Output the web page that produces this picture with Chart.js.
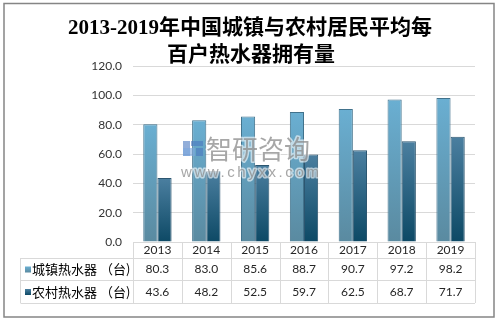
<!DOCTYPE html>
<html><head><meta charset="utf-8">
<script src="https://cdn.jsdelivr.net/npm/chart.js@4.4.1/dist/chart.umd.min.js"></script>
<style>html,body{margin:0;padding:0;background:#fff;overflow:hidden}#wrap{width:499px;height:322px;position:relative}</style>
</head><body><div id="wrap"><canvas id="c" width="499" height="322"></canvas></div>
<script>
const years = ['2013','2014','2015','2016','2017','2018','2019'];
const urban = [80.3, 83.0, 85.6, 88.7, 90.7, 97.2, 98.2];
const rural = [43.6, 48.2, 52.5, 59.7, 62.5, 68.7, 71.7];
const seriesNames = ['城镇热水器 （台)', '农村热水器 （台)'];
const titleLines = ['2013-2019年中国城镇与农村居民平均每', '百户热水器拥有量'];
const yMin = 0, yMax = 120, yStep = 20;

const colors = [
  {top:'#6aafd2', bottom:'#5a8aa0', border:'#41728c'},
  {top:'#4b7fa0', bottom:'#0d4965', border:'#2c5670'}
];
function barGrad(ctx, i){
  const chart = ctx.chart, ca = chart.chartArea;
  if(!ca || ctx.raw == null) return colors[i].top;
  const ys = chart.scales.y;
  const yt = ys.getPixelForValue(ctx.raw), yb = ys.getPixelForValue(0);
  const g = chart.ctx.createLinearGradient(0, yt, 0, yb);
  g.addColorStop(0, colors[i].top); g.addColorStop(1, colors[i].bottom);
  return g;
}
const numFont = '"Lato", "Liberation Sans", sans-serif';
const cjkFont = '"Noto Sans CJK SC", sans-serif';

const decor = {
  id:'decor',
  beforeDraw(chart){
    const c = chart.ctx; c.save(); c.fillStyle='#fff'; c.fillRect(0,0,chart.width,chart.height); c.restore();
  },
  afterDatasetsDraw(chart){
    const c = chart.ctx; c.save();
    // watermark
    c.globalAlpha = 0.6;
    c.fillStyle = '#4a78c0';
    c.fillRect(183,141,7,15); c.fillRect(191,141,12,5); c.fillRect(196,148,7,8);
    c.fillStyle = '#7aa6dd'; c.fillRect(183,148,12,8);
    c.globalAlpha = 0.75;
    c.font = '26px ' + cjkFont; c.textBaseline='middle'; c.textAlign='left';
    c.strokeStyle = 'rgba(255,255,255,0.8)'; c.lineWidth = 3; c.lineJoin='round';
    c.strokeText('智研咨询', 206, 149);
    c.fillStyle = '#8a8a8a';
    c.fillText('智研咨询', 206, 149);
    c.font = '15px "Liberation Sans", sans-serif';
    try { c.letterSpacing = '2.6px'; } catch(e){}
    c.strokeText('www.chyxx.com', 181, 173);
    c.fillText('www.chyxx.com', 181, 173);
    c.restore();
  },
  afterDraw(chart){
    const c = chart.ctx, ca = chart.chartArea, xs = chart.scales.x;
    c.save();
    // title
    c.fillStyle = '#000'; c.textAlign='center'; c.textBaseline='middle';
    c.font = 'bold 21px "Liberation Serif", ' + cjkFont;
    c.fillText(titleLines[0], 250, 29);
    c.fillText(titleLines[1], 251, 56);
    // table
    const left = 20.5, x0 = ca.left, x1 = ca.right;
    const rows = [ca.bottom, 258, 280, 303];
    c.strokeStyle = '#d9d9d9'; c.lineWidth = 1;
    c.beginPath();
    c.moveTo(x0, Math.round(rows[0])+0.5); c.lineTo(x1, Math.round(rows[0])+0.5);
    for(let r=1;r<rows.length;r++){ c.moveTo(left, rows[r]+0.5); c.lineTo(x1, rows[r]+0.5); }
    const cw = (x1-x0)/years.length;
    for(let i=0;i<=years.length;i++){ const x = Math.round(x0+i*cw)+0.5; c.moveTo(x, rows[0]); c.lineTo(x, rows[3]); }
    c.moveTo(left, rows[1]); c.lineTo(left, rows[3]);
    c.stroke();
    c.fillStyle = '#262626'; c.textAlign='center'; c.textBaseline='middle';
    c.font = '12px ' + numFont;
    years.forEach((y,i)=>{ const cx = xs.getPixelForValue(i); c.fillText(y, cx, 250.5); });
    [urban, rural].forEach((arr,r)=>{
      const cy = (rows[r+1]+rows[r+2])/2 + 0.5;
      arr.forEach((v,i)=>{ c.fillText(v.toFixed(1), xs.getPixelForValue(i), cy); });
      // legend key
      const g = c.createLinearGradient(0, cy-3, 0, cy+3);
      g.addColorStop(0, colors[r].top); g.addColorStop(1, colors[r].bottom);
      c.fillStyle = g; c.fillRect(25, cy-3, 6, 6);
      c.fillStyle = '#000'; c.textAlign='left';
      c.font = '13px ' + cjkFont;
      c.fillText(seriesNames[r], 32, cy);
      c.fillStyle = '#262626'; c.textAlign='center'; c.font = '12px ' + numFont;
    });
    // outer border
    c.strokeStyle = '#858585'; c.lineWidth = 1.5;
    c.strokeRect(4, 3.5, 490, 313.5);
    c.restore();
  }
};

new Chart(document.getElementById('c'), {
  type:'bar',
  data:{
    labels: years,
    datasets:[
      {label:seriesNames[0], data:urban, backgroundColor:(ctx)=>barGrad(ctx,0), borderColor:colors[0].border, borderWidth:1, borderSkipped:'bottom'},
      {label:seriesNames[1], data:rural, backgroundColor:(ctx)=>barGrad(ctx,1), borderColor:colors[1].border, borderWidth:1, borderSkipped:'bottom'}
    ]
  },
  options:{
    responsive:false, animation:false, devicePixelRatio:1,
    layout:{padding:{top:66, left:20, right:24, bottom:0}},
    datasets:{bar:{categoryPercentage:0.58, barPercentage:1.0}},
    plugins:{legend:{display:false}, title:{display:false}, tooltip:{enabled:false}},
    scales:{
      x:{
        grid:{display:false, drawTicks:false}, border:{display:false},
        ticks:{display:false},
        afterFit(s){ s.height = 80; }
      },
      y:{
        min:yMin, max:yMax,
        ticks:{stepSize:yStep, padding:11, color:'#333', font:{family:numFont, size:12}, callback:(v)=>Number(v).toFixed(1)},
        grid:{color:'#d9d9d9', drawTicks:false}, border:{display:false},
        afterFit(s){ s.width = 113; }
      }
    }
  },
  plugins:[decor]
});
</script>
</body></html>
